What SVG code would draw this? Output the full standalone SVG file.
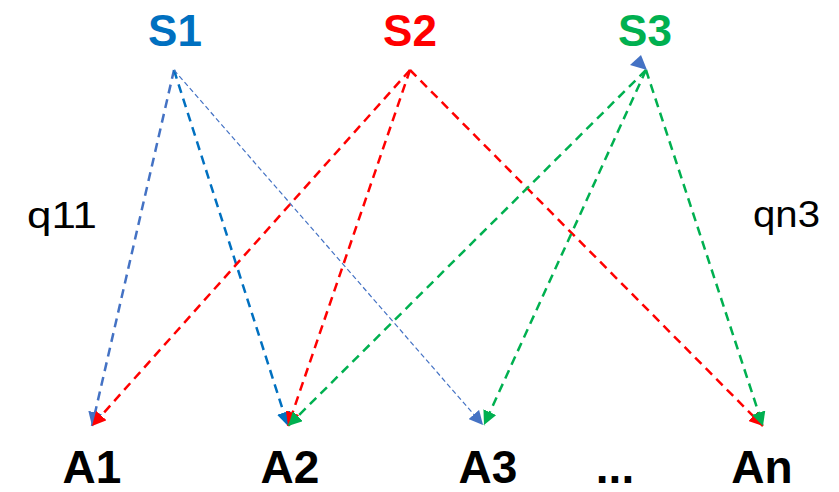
<svg xmlns="http://www.w3.org/2000/svg" width="839" height="492" viewBox="0 0 839 492">
<style>
.lbl{font-family:"Liberation Sans",Arial,sans-serif;font-weight:bold;text-anchor:middle}
.q{font-family:"Liberation Sans",Arial,sans-serif;font-size:36px;fill:#000}
.ln{fill:none;stroke-width:2.5;stroke-dasharray:9 6}
.thin{fill:none;stroke-width:1.2;stroke-dasharray:5 3}
</style>
<defs>
<marker id="mb" markerUnits="userSpaceOnUse" markerWidth="15" markerHeight="14" refX="14" refY="7" orient="auto"><path d="M0,0 L14,7 L0,14 z" fill="#4472C4"/></marker>
<marker id="mb2" markerUnits="userSpaceOnUse" markerWidth="15" markerHeight="14" refX="14" refY="7" orient="auto"><path d="M0,0 L14,7 L0,14 z" fill="#0070C0"/></marker>
<marker id="mr" markerUnits="userSpaceOnUse" markerWidth="15" markerHeight="14" refX="14" refY="7" orient="auto"><path d="M0,0 L14,7 L0,14 z" fill="#FF0000"/></marker>
<marker id="mg" markerUnits="userSpaceOnUse" markerWidth="15" markerHeight="14" refX="14" refY="7" orient="auto"><path d="M0,0 L14,7 L0,14 z" fill="#00B050"/></marker>
</defs>
<rect width="839" height="492" fill="#fff"/>
<g id="connectors">
<line class="ln" x1="174" y1="70" x2="92" y2="426" stroke="#4472C4" marker-end="url(#mb)"/>
<line class="ln" x1="174" y1="70" x2="288" y2="426" stroke="#0070C0" marker-end="url(#mb2)"/>
<line class="thin" x1="174" y1="70" x2="483" y2="425" stroke="#4472C4" marker-end="url(#mb)"/>
<line class="ln" x1="410" y1="70" x2="92" y2="426" stroke="#FF0000" marker-end="url(#mr)"/>
<line class="ln" x1="410" y1="70" x2="288" y2="426" stroke="#FF0000" marker-end="url(#mr)"/>
<line class="ln" x1="410" y1="70" x2="763" y2="426" stroke="#FF0000" marker-end="url(#mr)"/>
<line class="ln" x1="646" y1="70" x2="288" y2="426" stroke="#00B050" marker-end="url(#mg)"/>
<line class="ln" x1="646" y1="70" x2="484" y2="425" stroke="#00B050" marker-end="url(#mg)"/>
<line class="ln" x1="646" y1="70" x2="763" y2="426" stroke="#00B050" marker-end="url(#mg)"/>
<polygon points="630,65 641,55 647,70" fill="#4472C4"/>
</g>
<g id="S1"><text class="lbl" x="175" y="46" font-size="44" fill="#0070C0">S1</text></g>
<g id="S2"><text class="lbl" x="410" y="46" font-size="44" fill="#FF0000">S2</text></g>
<g id="S3"><text class="lbl" x="645" y="46" font-size="44" fill="#00B050">S3</text></g>
<g id="A1"><text class="lbl" x="92" y="483" font-size="46" fill="#000">A1</text></g>
<g id="A2"><text class="lbl" x="290" y="483" font-size="46" fill="#000">A2</text></g>
<g id="A3"><text class="lbl" x="488" y="483" font-size="46" fill="#000">A3</text></g>
<g id="dots"><text class="lbl" x="615" y="483" font-size="46" fill="#000">...</text></g>
<g id="An"><text class="lbl" x="762" y="483" font-size="46" fill="#000">An</text></g>
<g id="q11"><text class="q" x="27" y="228" textLength="70" lengthAdjust="spacingAndGlyphs">q11</text></g>
<g id="qn3"><text class="q" x="753" y="227" textLength="67" lengthAdjust="spacingAndGlyphs">qn3</text></g>
</svg>
